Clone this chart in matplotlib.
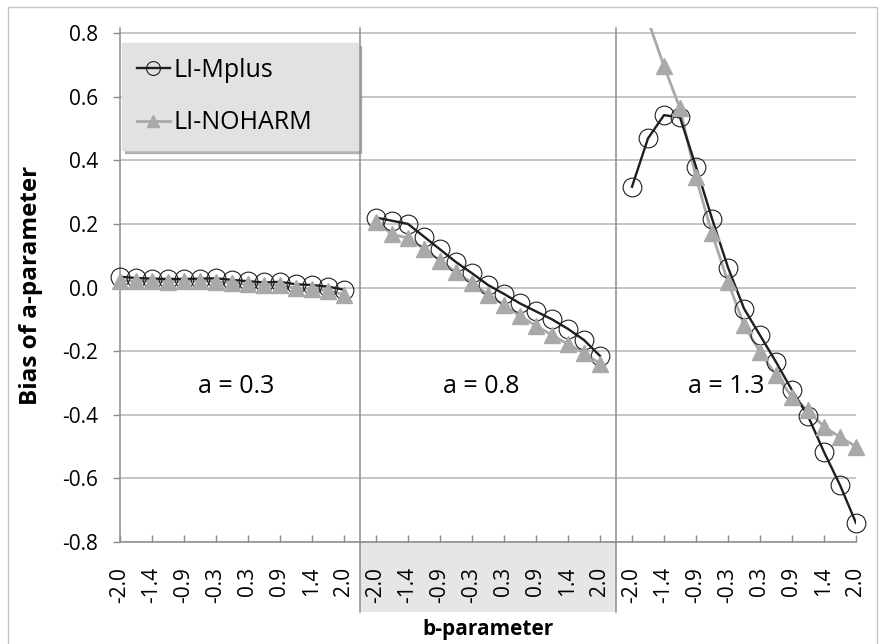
import numpy as np
import matplotlib.pyplot as plt
import matplotlib.transforms as mtransforms
from matplotlib.lines import Line2D
from matplotlib.patches import Rectangle

plt.rcParams['font.family'] = ['Open Sans', 'DejaVu Sans']

# b-parameter grid (15 values per a-level), only every other one is labelled
b_grid = ['-2.0', '-1.7', '-1.4', '-1.1', '-0.9', '-0.6', '-0.3', '0.0',
          '0.3', '0.6', '0.9', '1.1', '1.4', '1.7', '2.0']
a_labels = ['a = 0.3', 'a = 0.8', 'a = 1.3']

# bias of the a-parameter
mplus_a03 = [0.034, 0.030, 0.028, 0.027, 0.027, 0.028, 0.029, 0.024,
             0.020, 0.016, 0.018, 0.010, 0.008, 0.003, -0.007]
noharm_a03 = [0.022, 0.020, 0.020, 0.019, 0.020, 0.022, 0.018, 0.015,
              0.010, 0.007, 0.008, -0.003, -0.005, -0.010, -0.022]
mplus_a08 = [0.220, 0.210, 0.200, 0.160, 0.120, 0.080, 0.045, 0.008,
             -0.020, -0.050, -0.075, -0.100, -0.130, -0.165, -0.215]
noharm_a08 = [0.205, 0.168, 0.155, 0.122, 0.085, 0.048, 0.015, -0.022,
              -0.055, -0.090, -0.120, -0.150, -0.178, -0.205, -0.240]
mplus_a13 = [0.317, 0.469, 0.542, 0.535, 0.380, 0.217, 0.063, -0.066,
             -0.150, -0.234, -0.323, -0.404, -0.517, -0.621, -0.740]
noharm_a13 = [0.970, 0.840, 0.696, 0.563, 0.346, 0.170, 0.018, -0.118,
              -0.202, -0.275, -0.344, -0.386, -0.438, -0.470, -0.500]

mplus = [mplus_a03, mplus_a08, mplus_a13]
noharm = [noharm_a03, noharm_a08, noharm_a13]

y_ticks = [-0.8, -0.6, -0.4, -0.2, 0.0, 0.2, 0.4, 0.6, 0.8]

BLACK = '#1e1e1e'
GREY = '#a9a9a9'
AXIS = '#8c8c8c'

W, H = 884, 644
fig = plt.figure(figsize=(W / 100, H / 100), dpi=100)
ax = fig.add_axes([120 / W, 1 - 542 / H, 736 / W, 514 / H])

ymin, ymax = -0.8, 0.816
step = len(b_grid) + 1  # one empty slot between the a-levels
xt, xl = [], []
for g in range(len(a_labels)):
    x = np.arange(len(b_grid)) + g * step
    m = np.array(mplus[g])
    n = np.array(noharm[g])
    ax.plot(x, n, color=GREY, lw=2.0, zorder=3)
    ax.plot(x, m, color=BLACK, lw=1.7, zorder=3.2)
    ax.plot(x, m, ls='none', marker='o', ms=13.5, mfc='none', mec=BLACK,
            mew=0.8, clip_on=False, zorder=4)
    # markers above the axis top are not drawn (the line is clipped there)
    shown = np.where(n <= ymax, n, np.nan)
    ax.plot(x, shown, ls='none', marker='^', ms=11, color=GREY,
            clip_on=False, zorder=4.2)
    xt += list(x[::2])
    xl += b_grid[::2]

text_x = [7.25, 22.6, 37.9]
for tx, lab in zip(text_x, a_labels):
    ax.text(tx, -0.33, lab, ha='center', va='baseline', fontsize=18)

last = (len(a_labels) - 1) * step + len(b_grid) - 1
ax.set_xlim(0, last)
ax.set_ylim(ymin, ymax)
ax.set_yticks(y_ticks)
ax.set_yticklabels(['%.1f' % v for v in y_ticks])
ax.set_xticks(xt)
ax.set_xticklabels(xl, rotation=90)
ax.tick_params(axis='y', direction='out', length=5, color=AXIS, width=1,
               labelsize=15, pad=11)
ax.tick_params(axis='x', direction='in', length=5, color=AXIS, width=1,
               labelsize=15, pad=18)
for lab in ax.get_xticklabels():
    lab.set_va('top')

ax.grid(axis='y', color='#b5b5b5', lw=1.1)
ax.set_axisbelow(True)
for s in ['top', 'right']:
    ax.spines[s].set_visible(False)
for s in ['left', 'bottom']:
    ax.spines[s].set_color(AXIS)
    ax.spines[s].set_linewidth(1.1)

# group dividers running down through the label area, grey label box
trans = mtransforms.blended_transform_factory(ax.transData, ax.transAxes)
below = -70 / 514
for g in range(1, len(a_labels)):
    xs = g * step - 1
    ax.plot([xs, xs], [below, 1], color=AXIS, lw=1.1, transform=trans,
            clip_on=False, zorder=2)
ax.add_patch(Rectangle((step - 1, below), step, -below, transform=trans,
                       fc='#e6e6e6', ec='none', clip_on=False, zorder=0.5))

ax.set_ylabel('Bias of a-parameter', fontsize=17.5, fontweight='bold')
ax.yaxis.set_label_coords(-77 / 736, 0.5)
fig.text(488 / W, 1 - 630 / H, 'b-parameter', ha='center', va='center',
         fontsize=15, fontweight='bold')

handles = [Line2D([], [], color=BLACK, lw=1.7, marker='o', ms=10,
                  mfc='none', mec=BLACK, mew=0.8),
           Line2D([], [], color=GREY, lw=2.0, marker='^', ms=9)]
leg = ax.legend(handles, ['LI-Mplus', 'LI-NOHARM'], loc='upper left',
                bbox_to_anchor=(0.003, 0.4, 0.32, 0.571), mode='expand',
                borderaxespad=0, fontsize=18, handlelength=1.3,
                handletextpad=0.15, labelspacing=1.1, borderpad=0.6,
                fancybox=False, facecolor='#e2e2e2', edgecolor='#e2e2e2',
                framealpha=1, shadow={'color': '0.55', 'alpha': 0.6})
leg.set_zorder(5)

fig.patches.append(Rectangle((8 / W, -0.05), 869 / W, 1.05 - 7 / H,
                             transform=fig.transFigure, fill=False,
                             ec='#c4c4c4', lw=1))

fig.savefig('out.png', dpi=100)
